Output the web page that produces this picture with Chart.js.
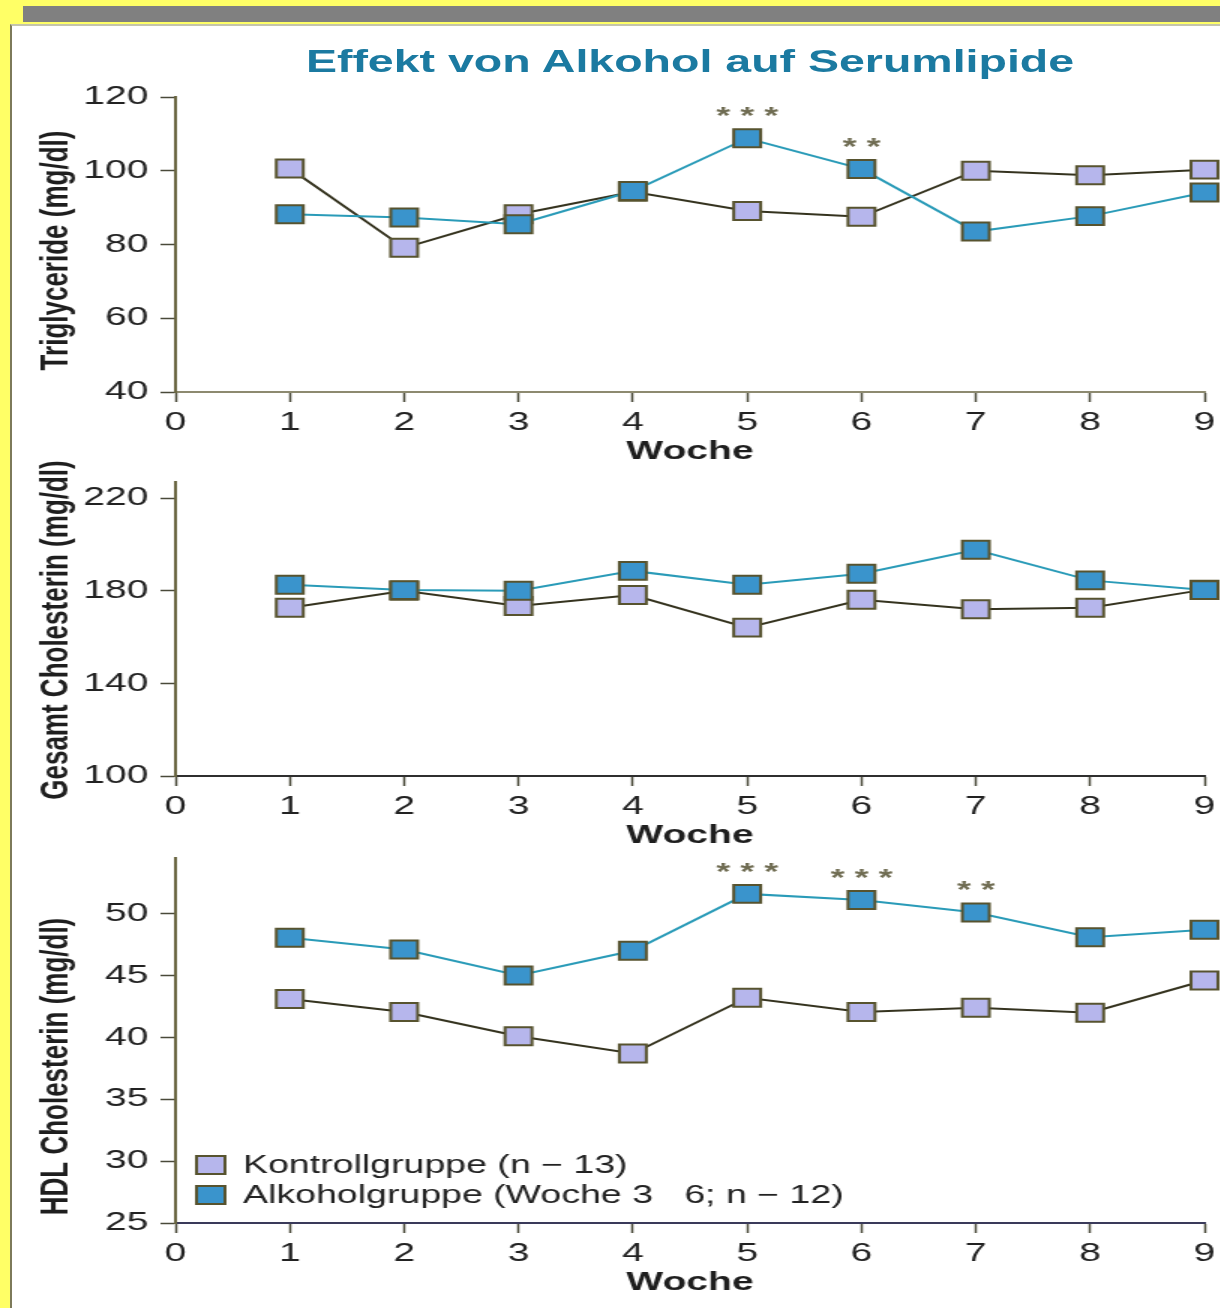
<!DOCTYPE html>
<html lang="de">
  <head>
    <meta charset="UTF-8" />
    <title>Effekt von Alkohol auf Serumlipide</title>
    <script src="https://cdn.jsdelivr.net/npm/chart.js"></script>
    <style>
      body {
        margin: 0;
        width: 1220px;
        height: 1308px;
        background: #ffff66;
        overflow: hidden;
        position: relative;
        font-family: "Liberation Sans", sans-serif;
      }
      .balken {
        position: absolute;
        left: 23px;
        top: 6px;
        width: 1197px;
        height: 16px;
        background: #808080;
      }
      .blatt {
        position: absolute;
        left: 10px;
        top: 24px;
        width: 1208px;
        height: 1282px;
        background: #fff;
        border-left: 2px solid #7d7a5a;
        border-top: 2px solid #c4c4ac;
      }
      /* die Vorlage ist horizontal gestreckt */
      .buehne {
        position: absolute;
        left: 0;
        top: 0;
        width: 819px;
        height: 1308px;
        transform: scaleX(1.5);
        transform-origin: 0 0;
      }
      .buehne canvas {
        position: absolute;
        left: 0;
      }
      .titel {
        position: absolute;
        left: 117px;
        width: 686px;
        top: 47px;
        text-align: center;
        font: bold 31px/30px "Liberation Sans", sans-serif;
        color: #1b7aa1;
      }
    </style>
  </head>
  <body>
    <div class="balken"></div>
    <div class="blatt"></div>
    <div class="buehne">
      <div class="titel">Effekt von Alkohol auf Serumlipide</div>
      <canvas id="trig" width="819" height="440" style="top: 30px"></canvas>
      <canvas id="chol" width="819" height="408" style="top: 446px"></canvas>
      <canvas id="hdl" width="819" height="466" style="top: 842px"></canvas>
    </div>

    <script>
      const wochen = [1, 2, 3, 4, 5, 6, 7, 8, 9];
      const xTicks = [0, 1, 2, 3, 4, 5, 6, 7, 8, 9];

      const trigKontrolle = [100.6, 79.1, 88.2, 94.3, 89.1, 87.5, 100, 98.8, 100.3];
      const trigAlkohol = [88.2, 87.3, 85.5, 94.5, 108.8, 100.5, 83.5, 87.7, 94.1];
      const trigTicks = [40, 60, 80, 100, 120];
      const trigSterne = [5, 6];
      const trigSterneText = ["* * *", "* *"];

      const cholKontrolle = [172.7, 180, 173.4, 178.2, 164.1, 176.1, 172, 172.7, 180.5];
      const cholAlkohol = [182.6, 180.3, 180, 188.6, 182.6, 187.4, 197.7, 184.5, 180.3];
      const cholTicks = [100, 140, 180, 220];

      const hdlKontrolle = [43.1, 42.05, 40.1, 38.7, 43.2, 42.05, 42.4, 42.0, 44.6];
      const hdlAlkohol = [48.05, 47.1, 45, 47.0, 51.6, 51.1, 50.1, 48.1, 48.7];
      const hdlTicks = [25, 30, 35, 40, 45, 50];
      const hdlSterne = [5, 6, 7];
      const hdlSterneText = ["* * *", "* * *", "* *"];

      const legendeTexte = [
        "Kontrollgruppe (n \u2212 13)",
        "Alkoholgruppe (Woche 3   6; n \u2212 12)",
      ];

      const schrift = '"Liberation Sans", sans-serif';
      const rahmen = "#57532f";

      const seitenTitel = {
        id: "seitenTitel",
        afterDraw(chart, args, opts) {
          const { ctx, chartArea } = chart;
          ctx.save();
          ctx.translate(38, (chartArea.top + chartArea.bottom) / 2 + opts.dy);
          ctx.rotate(-Math.PI / 2);
          ctx.font = "bold 26px " + schrift;
          ctx.fillStyle = "#1e1e1e";
          ctx.textAlign = "center";
          ctx.textBaseline = "middle";
          ctx.fillText(opts.text, 0, 0);
          ctx.restore();
        },
      };

      const sterne = {
        id: "sterne",
        afterDatasetsDraw(chart, args, opts) {
          if (!opts.wochen) return;
          const { ctx } = chart;
          const xs = chart.scales.x;
          const ys = chart.scales.y;
          const alk = chart.data.datasets[1].data;
          ctx.save();
          ctx.font = "bold 24px " + schrift;
          ctx.fillStyle = "#6f6c52";
          ctx.textAlign = "center";
          ctx.textBaseline = "middle";
          opts.wochen.forEach((w, i) => {
            const p = alk[w - 1];
            ctx.fillText(opts.texte[i], xs.getPixelForValue(p.x), ys.getPixelForValue(p.y) - 21);
          });
          ctx.restore();
        },
      };

      const legende = {
        id: "legende",
        afterDraw(chart, args, opts) {
          if (!opts.texte) return;
          const { ctx, chartArea } = chart;
          ctx.save();
          chart.data.datasets.forEach((ds, i) => {
            const y = chartArea.bottom - 58 + i * 30;
            const x = chartArea.left + 14;
            ctx.fillStyle = ds.pointBackgroundColor;
            ctx.strokeStyle = ds.pointBorderColor;
            ctx.lineWidth = 2;
            ctx.fillRect(x, y - 9, 19, 18);
            ctx.strokeRect(x, y - 9, 19, 18);
            ctx.font = "25px " + schrift;
            ctx.fillStyle = "#222";
            ctx.textAlign = "left";
            ctx.textBaseline = "middle";
            ctx.fillText(opts.texte[i], chartArea.left + 45, y + 1);
          });
          ctx.restore();
        },
      };

      function punkte(werte) {
        return werte.map((v, i) => ({ x: wochen[i], y: v }));
      }

      function diagramm(id, kontrolle, alkohol, yMin, yMax, yTicks, extra) {
        const ctx = document.getElementById(id).getContext("2d");
        return new Chart(ctx, {
          type: "line",
          data: {
            datasets: [
              {
                label: legendeTexte[0],
                data: punkte(kontrolle),
                borderColor: "#35331f",
                borderWidth: 2,
                pointStyle: "rect",
                pointRadius: 12.7,
                pointBackgroundColor: "#b6b6ec",
                pointBorderColor: rahmen,
                pointBorderWidth: 2,
                tension: 0,
                clip: false,
                order: 1,
              },
              {
                label: legendeTexte[1],
                data: punkte(alkohol),
                borderColor: "#2a9bb8",
                borderWidth: 2,
                pointStyle: "rect",
                pointRadius: 12.7,
                pointBackgroundColor: "#3a94cc",
                pointBorderColor: rahmen,
                pointBorderWidth: 2,
                tension: 0,
                clip: false,
                order: 0,
              },
            ],
          },
          options: {
            responsive: false,
            animation: false,
            layout: { padding: extra.padding },
            plugins: {
              legend: { display: false },
              tooltip: { enabled: false },
              seitenTitel: { text: extra.titel, dy: extra.dy },
              sterne: { wochen: extra.sterne, texte: extra.sterneText },
              legende: { texte: extra.legende },
            },
            scales: {
              x: {
                type: "linear",
                min: 0,
                max: 9,
                afterBuildTicks: (s) => {
                  s.ticks = xTicks.map((v) => ({ value: v }));
                },
                afterFit: (s) => {
                  s.height = 78;
                },
                grid: {
                  drawOnChartArea: false,
                  tickLength: 10,
                  tickColor: "#4a4a3a",
                  tickWidth: 1.5,
                },
                border: {
                  color: extra.xFarbe,
                  width: 2,
                  dash: extra.xDash,
                },
                ticks: {
                  padding: 5,
                  color: "#222",
                  font: { family: schrift, size: 26 },
                },
                title: {
                  display: true,
                  text: "Woche",
                  color: "#1e1e1e",
                  font: { family: schrift, size: 26, weight: "bold" },
                  padding: { top: 0, bottom: 3 },
                },
              },
              y: {
                min: yMin,
                max: yMax,
                afterBuildTicks: (s) => {
                  s.ticks = yTicks.map((v) => ({ value: v }));
                },
                afterFit: (s) => {
                  s.width = 117;
                  s.paddingTop = 0;
                  s.paddingBottom = 0;
                },
                grid: {
                  drawOnChartArea: false,
                  tickLength: 10,
                  tickColor: "#4a4a3a",
                  tickWidth: 1.5,
                },
                border: { color: "#6a6642", width: 2 },
                ticks: {
                  padding: 8,
                  color: "#222",
                  font: { family: schrift, size: 26 },
                },
              },
            },
          },
          plugins: [seitenTitel, sterne, legende],
        });
      }

      diagramm("trig", trigKontrolle, trigAlkohol, 40, 120, trigTicks, {
        padding: { top: 67, right: 16, left: 0, bottom: 0 },
        titel: "Triglyceride (mg/dl)",
        dy: 6,
        sterne: trigSterne,
        sterneText: trigSterneText,
        xFarbe: "#8d8a70",
        xDash: [3, 2],
      });

      diagramm("chol", cholKontrolle, cholAlkohol, 100, 227, cholTicks, {
        padding: { top: 36, right: 16, left: 0, bottom: 0 },
        titel: "Gesamt Cholesterin (mg/dl)",
        dy: 1,
        xFarbe: "#2f2f2f",
        xDash: [],
      });

      diagramm("hdl", hdlKontrolle, hdlAlkohol, 25, 54.5, hdlTicks, {
        padding: { top: 16, right: 16, left: 0, bottom: 7 },
        titel: "HDL Cholesterin (mg/dl)",
        dy: 26,
        sterne: hdlSterne,
        sterneText: hdlSterneText,
        legende: legendeTexte,
        xFarbe: "#3a3a5a",
        xDash: [],
      });
    </script>
  </body>
</html>
